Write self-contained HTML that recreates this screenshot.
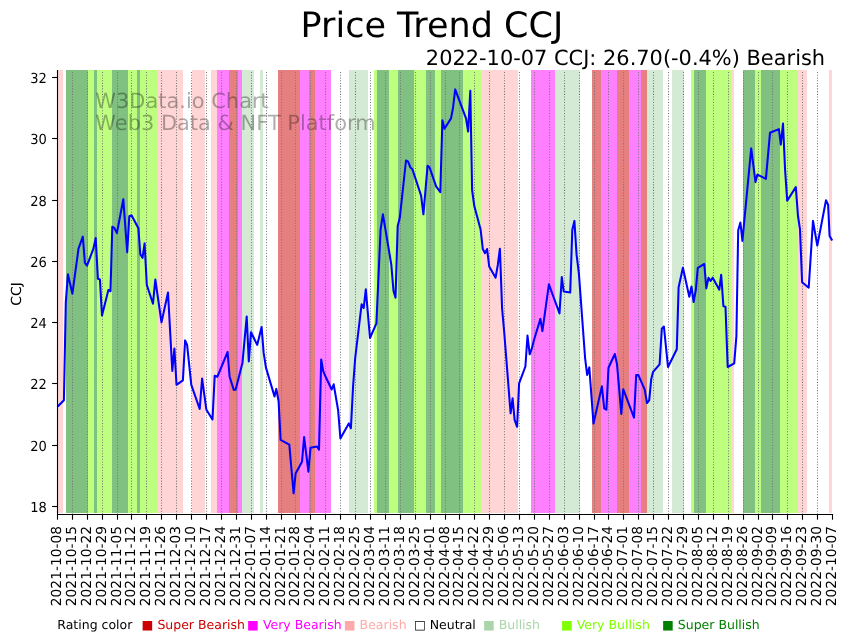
<!DOCTYPE html>
<html lang="en"><head><meta charset="utf-8"><title>Price Trend CCJ</title>
<style>html,body{margin:0;padding:0;background:#fff}svg{display:block;will-change:transform}text{font-family:'DejaVu Sans','Liberation Sans',sans-serif;text-rendering:geometricPrecision}</style></head><body>
<svg width="849" height="641" viewBox="0 0 849 641">
<rect x="0" y="0" width="849" height="641" fill="#ffffff"/>
<g shape-rendering="crispEdges">
<rect x="58" y="70" width="5" height="443" fill="#FFD5D5"/>
<rect x="66" y="70" width="22" height="443" fill="#80C080"/>
<rect x="88" y="70" width="6" height="443" fill="#BFFF80"/>
<rect x="94" y="70" width="3" height="443" fill="#80C080"/>
<rect x="97" y="70" width="15" height="443" fill="#BFFF80"/>
<rect x="112" y="70" width="16" height="443" fill="#80C080"/>
<rect x="128" y="70" width="9" height="443" fill="#BFFF80"/>
<rect x="137" y="70" width="3" height="443" fill="#80C080"/>
<rect x="140" y="70" width="18" height="443" fill="#BFFF80"/>
<rect x="158" y="70" width="25" height="443" fill="#FFD5D5"/>
<rect x="192" y="70" width="13" height="443" fill="#FFD5D5"/>
<rect x="211" y="70" width="6" height="443" fill="#FFD5D5"/>
<rect x="217" y="70" width="12" height="443" fill="#FF80FF"/>
<rect x="229" y="70" width="9" height="443" fill="#E68080"/>
<rect x="238" y="70" width="4" height="443" fill="#FF80FF"/>
<rect x="242" y="70" width="12" height="443" fill="#D5EAD5"/>
<rect x="260" y="70" width="3" height="443" fill="#D5EAD5"/>
<rect x="278" y="70" width="22" height="443" fill="#E68080"/>
<rect x="300" y="70" width="9" height="443" fill="#FF80FF"/>
<rect x="309" y="70" width="6" height="443" fill="#E68080"/>
<rect x="315" y="70" width="16" height="443" fill="#FF80FF"/>
<rect x="349" y="70" width="19" height="443" fill="#D5EAD5"/>
<rect x="374" y="70" width="3" height="443" fill="#BFFF80"/>
<rect x="377" y="70" width="12" height="443" fill="#80C080"/>
<rect x="389" y="70" width="9" height="443" fill="#BFFF80"/>
<rect x="398" y="70" width="16" height="443" fill="#80C080"/>
<rect x="414" y="70" width="12" height="443" fill="#BFFF80"/>
<rect x="426" y="70" width="9" height="443" fill="#80C080"/>
<rect x="435" y="70" width="6" height="443" fill="#BFFF80"/>
<rect x="441" y="70" width="22" height="443" fill="#80C080"/>
<rect x="463" y="70" width="18" height="443" fill="#BFFF80"/>
<rect x="481" y="70" width="37" height="443" fill="#FFD5D5"/>
<rect x="531" y="70" width="24" height="443" fill="#FF80FF"/>
<rect x="555" y="70" width="25" height="443" fill="#D5EAD5"/>
<rect x="592" y="70" width="9" height="443" fill="#E68080"/>
<rect x="601" y="70" width="16" height="443" fill="#FF80FF"/>
<rect x="617" y="70" width="12" height="443" fill="#E68080"/>
<rect x="629" y="70" width="12" height="443" fill="#FF80FF"/>
<rect x="641" y="70" width="6" height="443" fill="#E68080"/>
<rect x="647" y="70" width="16" height="443" fill="#D5EAD5"/>
<rect x="672" y="70" width="12" height="443" fill="#D5EAD5"/>
<rect x="691" y="70" width="3" height="443" fill="#BFFF80"/>
<rect x="694" y="70" width="12" height="443" fill="#80C080"/>
<rect x="706" y="70" width="25" height="443" fill="#BFFF80"/>
<rect x="731" y="70" width="3" height="443" fill="#FFD5D5"/>
<rect x="743" y="70" width="12" height="443" fill="#80C080"/>
<rect x="755" y="70" width="6" height="443" fill="#BFFF80"/>
<rect x="761" y="70" width="19" height="443" fill="#80C080"/>
<rect x="780" y="70" width="18" height="443" fill="#BFFF80"/>
<rect x="798" y="70" width="9" height="443" fill="#FFD5D5"/>
<rect x="829" y="70" width="3" height="443" fill="#FFD5D5"/>
</g>
<g fill="#000" fill-opacity="0.32" font-size="20.94px">
<text x="95.3" y="108.2">W3Data.io Chart</text>
<text x="95.3" y="129.9">Web3 Data &amp; NFT Platform</text>
</g>
<g stroke="#787878" stroke-width="1.04" stroke-dasharray="1.03 1.713" fill="none">
<line x1="72.50" y1="514.56" x2="72.50" y2="70.4"/>
<line x1="87.50" y1="514.56" x2="87.50" y2="70.4"/>
<line x1="102.50" y1="514.56" x2="102.50" y2="70.4"/>
<line x1="117.50" y1="514.56" x2="117.50" y2="70.4"/>
<line x1="131.50" y1="514.56" x2="131.50" y2="70.4"/>
<line x1="146.50" y1="514.56" x2="146.50" y2="70.4"/>
<line x1="161.50" y1="514.56" x2="161.50" y2="70.4"/>
<line x1="176.50" y1="514.56" x2="176.50" y2="70.4"/>
<line x1="191.50" y1="514.56" x2="191.50" y2="70.4"/>
<line x1="206.50" y1="514.56" x2="206.50" y2="70.4"/>
<line x1="221.50" y1="514.56" x2="221.50" y2="70.4"/>
<line x1="236.50" y1="514.56" x2="236.50" y2="70.4"/>
<line x1="251.50" y1="514.56" x2="251.50" y2="70.4"/>
<line x1="266.50" y1="514.56" x2="266.50" y2="70.4"/>
<line x1="281.50" y1="514.56" x2="281.50" y2="70.4"/>
<line x1="295.50" y1="514.56" x2="295.50" y2="70.4"/>
<line x1="310.50" y1="514.56" x2="310.50" y2="70.4"/>
<line x1="325.50" y1="514.56" x2="325.50" y2="70.4"/>
<line x1="340.50" y1="514.56" x2="340.50" y2="70.4"/>
<line x1="355.50" y1="514.56" x2="355.50" y2="70.4"/>
<line x1="370.50" y1="514.56" x2="370.50" y2="70.4"/>
<line x1="385.50" y1="514.56" x2="385.50" y2="70.4"/>
<line x1="400.50" y1="514.56" x2="400.50" y2="70.4"/>
<line x1="415.50" y1="514.56" x2="415.50" y2="70.4"/>
<line x1="430.50" y1="514.56" x2="430.50" y2="70.4"/>
<line x1="445.50" y1="514.56" x2="445.50" y2="70.4"/>
<line x1="459.50" y1="514.56" x2="459.50" y2="70.4"/>
<line x1="474.50" y1="514.56" x2="474.50" y2="70.4"/>
<line x1="489.50" y1="514.56" x2="489.50" y2="70.4"/>
<line x1="504.50" y1="514.56" x2="504.50" y2="70.4"/>
<line x1="519.50" y1="514.56" x2="519.50" y2="70.4"/>
<line x1="534.50" y1="514.56" x2="534.50" y2="70.4"/>
<line x1="549.50" y1="514.56" x2="549.50" y2="70.4"/>
<line x1="564.50" y1="514.56" x2="564.50" y2="70.4"/>
<line x1="579.50" y1="514.56" x2="579.50" y2="70.4"/>
<line x1="594.50" y1="514.56" x2="594.50" y2="70.4"/>
<line x1="608.50" y1="514.56" x2="608.50" y2="70.4"/>
<line x1="623.50" y1="514.56" x2="623.50" y2="70.4"/>
<line x1="638.50" y1="514.56" x2="638.50" y2="70.4"/>
<line x1="653.50" y1="514.56" x2="653.50" y2="70.4"/>
<line x1="668.50" y1="514.56" x2="668.50" y2="70.4"/>
<line x1="683.50" y1="514.56" x2="683.50" y2="70.4"/>
<line x1="698.50" y1="514.56" x2="698.50" y2="70.4"/>
<line x1="713.50" y1="514.56" x2="713.50" y2="70.4"/>
<line x1="728.50" y1="514.56" x2="728.50" y2="70.4"/>
<line x1="743.50" y1="514.56" x2="743.50" y2="70.4"/>
<line x1="758.50" y1="514.56" x2="758.50" y2="70.4"/>
<line x1="772.50" y1="514.56" x2="772.50" y2="70.4"/>
<line x1="787.50" y1="514.56" x2="787.50" y2="70.4"/>
<line x1="802.50" y1="514.56" x2="802.50" y2="70.4"/>
<line x1="817.50" y1="514.56" x2="817.50" y2="70.4"/>
</g>
<polyline points="57.7,406.5 63.9,400.3 65.8,302.4 67.9,274.3 72.4,293.7 78.5,248.7 82.8,236.6 84.9,262.8 87.0,265.6 93.4,248.7 95.7,238.1 97.9,278.7 99.9,279.5 102.0,315.4 108.4,290.0 110.5,291.2 112.3,226.7 114.5,228.2 116.9,233.1 123.3,199.2 127.2,252.2 129.3,216.1 131.5,215.2 138.4,228.2 140.3,254.3 142.5,257.8 144.6,243.4 146.8,285.0 153.0,303.7 155.3,279.5 161.5,322.4 168.0,292.5 172.3,371.0 174.4,348.6 176.5,384.8 182.9,380.3 185.1,340.4 187.1,344.9 191.3,384.8 199.7,409.0 202.1,378.6 206.4,409.8 212.5,419.5 214.7,375.8 217.3,376.8 227.6,352.0 229.6,376.8 233.8,389.9 235.7,389.5 242.5,362.7 246.7,316.5 248.8,361.4 251.0,332.2 257.2,344.9 261.6,327.1 263.6,352.4 265.9,367.4 274.5,396.4 276.3,388.9 278.6,401.3 280.6,439.9 289.3,444.6 293.6,493.3 295.6,473.6 302.0,461.8 304.1,437.1 308.4,471.7 310.5,447.8 317.0,446.5 319.0,449.6 321.2,359.5 323.2,371.1 325.5,376.5 331.7,389.5 333.7,384.3 338.1,410.0 340.4,438.4 348.8,423.4 350.9,428.3 353.1,386.0 355.2,358.0 361.6,304.3 363.7,308.0 365.8,289.3 370.0,338.0 376.4,323.4 380.6,229.5 382.9,214.3 391.3,264.6 393.5,291.0 395.5,297.8 397.7,226.0 399.8,217.8 406.0,160.5 408.1,161.7 410.4,167.5 412.4,169.2 421.1,195.6 423.4,214.3 427.6,165.7 429.6,167.5 436.1,186.3 440.3,192.2 442.4,120.2 444.5,128.7 451.0,118.4 453.0,108.0 455.2,89.4 466.0,118.4 468.1,131.5 470.3,90.7 472.1,190.0 474.3,206.1 480.6,229.5 482.8,249.0 485.0,253.2 487.1,249.0 489.2,266.5 495.6,277.7 497.8,265.0 499.9,248.7 502.1,308.6 504.2,332.0 510.6,413.3 512.6,398.3 514.6,419.9 517.1,426.8 519.1,383.4 525.4,366.5 527.5,335.5 529.7,354.3 531.8,348.7 534.0,340.0 540.4,318.9 542.4,331.1 548.9,284.3 559.5,313.4 561.8,277.1 563.7,291.4 570.2,292.5 572.3,229.7 574.4,220.9 576.6,254.9 578.9,273.6 585.1,358.0 587.1,374.9 589.3,367.4 593.5,423.6 601.9,386.3 604.2,408.4 606.4,409.7 608.5,367.7 614.8,354.0 617.0,364.0 621.3,413.9 623.2,389.2 634.0,417.6 636.2,375.1 638.4,375.1 644.7,389.6 647.0,403.0 649.2,400.4 651.2,379.3 653.1,371.8 659.6,364.3 661.8,328.7 663.9,326.5 668.0,367.0 676.8,349.3 678.6,287.4 682.9,267.8 689.3,296.8 691.5,286.5 693.6,302.0 695.8,290.0 697.8,267.8 704.3,264.0 706.3,288.4 708.5,277.7 710.6,280.9 712.7,277.7 719.3,289.7 721.2,274.7 723.4,306.2 725.5,306.7 727.7,367.0 734.2,363.3 736.4,336.1 738.2,230.2 740.4,222.5 742.4,240.9 751.2,148.4 755.5,182.1 757.4,174.6 765.9,178.9 770.0,132.8 778.9,129.1 780.8,144.6 783.0,123.5 785.1,170.0 787.2,200.8 795.8,187.1 798.0,216.0 800.0,229.3 802.1,282.3 808.7,287.7 813.0,220.9 817.3,245.6 826.0,200.3 828.1,204.6 829.6,236.0 832.2,240.6" fill="none" stroke="#0000ff" stroke-width="2.05" stroke-linejoin="round" stroke-linecap="butt"/>
<g stroke="#000" stroke-width="1.1" fill="none">
<line x1="57.5" y1="70" x2="57.5" y2="515"/>
<line x1="57" y1="514.5" x2="833" y2="514.5"/>
<line x1="57.50" y1="514.5" x2="57.50" y2="519.7"/>
<line x1="72.50" y1="514.5" x2="72.50" y2="519.7"/>
<line x1="87.50" y1="514.5" x2="87.50" y2="519.7"/>
<line x1="102.50" y1="514.5" x2="102.50" y2="519.7"/>
<line x1="117.50" y1="514.5" x2="117.50" y2="519.7"/>
<line x1="131.50" y1="514.5" x2="131.50" y2="519.7"/>
<line x1="146.50" y1="514.5" x2="146.50" y2="519.7"/>
<line x1="161.50" y1="514.5" x2="161.50" y2="519.7"/>
<line x1="176.50" y1="514.5" x2="176.50" y2="519.7"/>
<line x1="191.50" y1="514.5" x2="191.50" y2="519.7"/>
<line x1="206.50" y1="514.5" x2="206.50" y2="519.7"/>
<line x1="221.50" y1="514.5" x2="221.50" y2="519.7"/>
<line x1="236.50" y1="514.5" x2="236.50" y2="519.7"/>
<line x1="251.50" y1="514.5" x2="251.50" y2="519.7"/>
<line x1="266.50" y1="514.5" x2="266.50" y2="519.7"/>
<line x1="281.50" y1="514.5" x2="281.50" y2="519.7"/>
<line x1="295.50" y1="514.5" x2="295.50" y2="519.7"/>
<line x1="310.50" y1="514.5" x2="310.50" y2="519.7"/>
<line x1="325.50" y1="514.5" x2="325.50" y2="519.7"/>
<line x1="340.50" y1="514.5" x2="340.50" y2="519.7"/>
<line x1="355.50" y1="514.5" x2="355.50" y2="519.7"/>
<line x1="370.50" y1="514.5" x2="370.50" y2="519.7"/>
<line x1="385.50" y1="514.5" x2="385.50" y2="519.7"/>
<line x1="400.50" y1="514.5" x2="400.50" y2="519.7"/>
<line x1="415.50" y1="514.5" x2="415.50" y2="519.7"/>
<line x1="430.50" y1="514.5" x2="430.50" y2="519.7"/>
<line x1="445.50" y1="514.5" x2="445.50" y2="519.7"/>
<line x1="459.50" y1="514.5" x2="459.50" y2="519.7"/>
<line x1="474.50" y1="514.5" x2="474.50" y2="519.7"/>
<line x1="489.50" y1="514.5" x2="489.50" y2="519.7"/>
<line x1="504.50" y1="514.5" x2="504.50" y2="519.7"/>
<line x1="519.50" y1="514.5" x2="519.50" y2="519.7"/>
<line x1="534.50" y1="514.5" x2="534.50" y2="519.7"/>
<line x1="549.50" y1="514.5" x2="549.50" y2="519.7"/>
<line x1="564.50" y1="514.5" x2="564.50" y2="519.7"/>
<line x1="579.50" y1="514.5" x2="579.50" y2="519.7"/>
<line x1="594.50" y1="514.5" x2="594.50" y2="519.7"/>
<line x1="608.50" y1="514.5" x2="608.50" y2="519.7"/>
<line x1="623.50" y1="514.5" x2="623.50" y2="519.7"/>
<line x1="638.50" y1="514.5" x2="638.50" y2="519.7"/>
<line x1="653.50" y1="514.5" x2="653.50" y2="519.7"/>
<line x1="668.50" y1="514.5" x2="668.50" y2="519.7"/>
<line x1="683.50" y1="514.5" x2="683.50" y2="519.7"/>
<line x1="698.50" y1="514.5" x2="698.50" y2="519.7"/>
<line x1="713.50" y1="514.5" x2="713.50" y2="519.7"/>
<line x1="728.50" y1="514.5" x2="728.50" y2="519.7"/>
<line x1="743.50" y1="514.5" x2="743.50" y2="519.7"/>
<line x1="758.50" y1="514.5" x2="758.50" y2="519.7"/>
<line x1="772.50" y1="514.5" x2="772.50" y2="519.7"/>
<line x1="787.50" y1="514.5" x2="787.50" y2="519.7"/>
<line x1="802.50" y1="514.5" x2="802.50" y2="519.7"/>
<line x1="817.50" y1="514.5" x2="817.50" y2="519.7"/>
<line x1="832.50" y1="514.5" x2="832.50" y2="519.7"/>
<line x1="52.1" y1="77.50" x2="57.5" y2="77.50"/>
<line x1="52.1" y1="138.50" x2="57.5" y2="138.50"/>
<line x1="52.1" y1="200.50" x2="57.5" y2="200.50"/>
<line x1="52.1" y1="261.50" x2="57.5" y2="261.50"/>
<line x1="52.1" y1="322.50" x2="57.5" y2="322.50"/>
<line x1="52.1" y1="383.50" x2="57.5" y2="383.50"/>
<line x1="52.1" y1="445.50" x2="57.5" y2="445.50"/>
<line x1="52.1" y1="506.50" x2="57.5" y2="506.50"/>
</g>
<g font-size="13.89px" fill="#000" text-anchor="end">
<text transform="translate(46.8,82.90) scale(0.94,1)">32</text>
<text transform="translate(46.8,143.90) scale(0.94,1)">30</text>
<text transform="translate(46.8,205.90) scale(0.94,1)">28</text>
<text transform="translate(46.8,266.90) scale(0.94,1)">26</text>
<text transform="translate(46.8,327.90) scale(0.94,1)">24</text>
<text transform="translate(46.8,388.90) scale(0.94,1)">22</text>
<text transform="translate(46.8,450.90) scale(0.94,1)">20</text>
<text transform="translate(46.8,511.90) scale(0.94,1)">18</text>
</g>
<text font-size="13.89px" fill="#000" text-anchor="middle" transform="translate(21.1,294.0) rotate(-90)">CCJ</text>
<g font-size="13.8px" fill="#000" text-anchor="end">
<text transform="translate(60.80,526.0) rotate(-90)">2021-10-08</text>
<text transform="translate(75.80,526.0) rotate(-90)">2021-10-15</text>
<text transform="translate(90.80,526.0) rotate(-90)">2021-10-22</text>
<text transform="translate(105.80,526.0) rotate(-90)">2021-10-29</text>
<text transform="translate(120.80,526.0) rotate(-90)">2021-11-05</text>
<text transform="translate(134.80,526.0) rotate(-90)">2021-11-12</text>
<text transform="translate(149.80,526.0) rotate(-90)">2021-11-19</text>
<text transform="translate(164.80,526.0) rotate(-90)">2021-11-26</text>
<text transform="translate(179.80,526.0) rotate(-90)">2021-12-03</text>
<text transform="translate(194.80,526.0) rotate(-90)">2021-12-10</text>
<text transform="translate(209.80,526.0) rotate(-90)">2021-12-17</text>
<text transform="translate(224.80,526.0) rotate(-90)">2021-12-24</text>
<text transform="translate(239.80,526.0) rotate(-90)">2021-12-31</text>
<text transform="translate(254.80,526.0) rotate(-90)">2022-01-07</text>
<text transform="translate(269.80,526.0) rotate(-90)">2022-01-14</text>
<text transform="translate(284.80,526.0) rotate(-90)">2022-01-21</text>
<text transform="translate(298.80,526.0) rotate(-90)">2022-01-28</text>
<text transform="translate(313.80,526.0) rotate(-90)">2022-02-04</text>
<text transform="translate(328.80,526.0) rotate(-90)">2022-02-11</text>
<text transform="translate(343.80,526.0) rotate(-90)">2022-02-18</text>
<text transform="translate(358.80,526.0) rotate(-90)">2022-02-25</text>
<text transform="translate(373.80,526.0) rotate(-90)">2022-03-04</text>
<text transform="translate(388.80,526.0) rotate(-90)">2022-03-11</text>
<text transform="translate(403.80,526.0) rotate(-90)">2022-03-18</text>
<text transform="translate(418.80,526.0) rotate(-90)">2022-03-25</text>
<text transform="translate(433.80,526.0) rotate(-90)">2022-04-01</text>
<text transform="translate(448.80,526.0) rotate(-90)">2022-04-08</text>
<text transform="translate(462.80,526.0) rotate(-90)">2022-04-15</text>
<text transform="translate(477.80,526.0) rotate(-90)">2022-04-22</text>
<text transform="translate(492.80,526.0) rotate(-90)">2022-04-29</text>
<text transform="translate(507.80,526.0) rotate(-90)">2022-05-06</text>
<text transform="translate(522.80,526.0) rotate(-90)">2022-05-13</text>
<text transform="translate(537.80,526.0) rotate(-90)">2022-05-20</text>
<text transform="translate(552.80,526.0) rotate(-90)">2022-05-27</text>
<text transform="translate(567.80,526.0) rotate(-90)">2022-06-03</text>
<text transform="translate(582.80,526.0) rotate(-90)">2022-06-10</text>
<text transform="translate(597.80,526.0) rotate(-90)">2022-06-17</text>
<text transform="translate(611.80,526.0) rotate(-90)">2022-06-24</text>
<text transform="translate(626.80,526.0) rotate(-90)">2022-07-01</text>
<text transform="translate(641.80,526.0) rotate(-90)">2022-07-08</text>
<text transform="translate(656.80,526.0) rotate(-90)">2022-07-15</text>
<text transform="translate(671.80,526.0) rotate(-90)">2022-07-22</text>
<text transform="translate(686.80,526.0) rotate(-90)">2022-07-29</text>
<text transform="translate(701.80,526.0) rotate(-90)">2022-08-05</text>
<text transform="translate(716.80,526.0) rotate(-90)">2022-08-12</text>
<text transform="translate(731.80,526.0) rotate(-90)">2022-08-19</text>
<text transform="translate(746.80,526.0) rotate(-90)">2022-08-26</text>
<text transform="translate(761.80,526.0) rotate(-90)">2022-09-02</text>
<text transform="translate(775.80,526.0) rotate(-90)">2022-09-09</text>
<text transform="translate(790.80,526.0) rotate(-90)">2022-09-16</text>
<text transform="translate(805.80,526.0) rotate(-90)">2022-09-23</text>
<text transform="translate(820.80,526.0) rotate(-90)">2022-09-30</text>
<text transform="translate(835.80,526.0) rotate(-90)">2022-10-07</text>
</g>
<text x="431.9" y="36.7" font-size="35px" fill="#000" text-anchor="middle">Price Trend CCJ</text>
<text x="825.1" y="65.3" font-size="20.92px" fill="#000" text-anchor="end">2022-10-07 CCJ: 26.70(-0.4%) Bearish</text>
<g font-size="12.5px">
<text x="57.3" y="629" fill="#000000">Rating color</text>
<text x="141.6" y="629" fill="#cc0000">■ Super Bearish</text>
<text x="247.1" y="629" fill="#ff00ff">■ Very Bearish</text>
<text x="343.8" y="629" fill="#ffaaaa">■ Bearish</text>
<text x="413.9" y="629" fill="#000000">□ Neutral</text>
<text x="482.9" y="629" fill="#aad5aa">■ Bullish</text>
<text x="560.9" y="629" fill="#7fff00">■ Very Bullish</text>
<text x="662.0" y="629" fill="#008000">■ Super Bullish</text>
</g>
</svg>
</body></html>
